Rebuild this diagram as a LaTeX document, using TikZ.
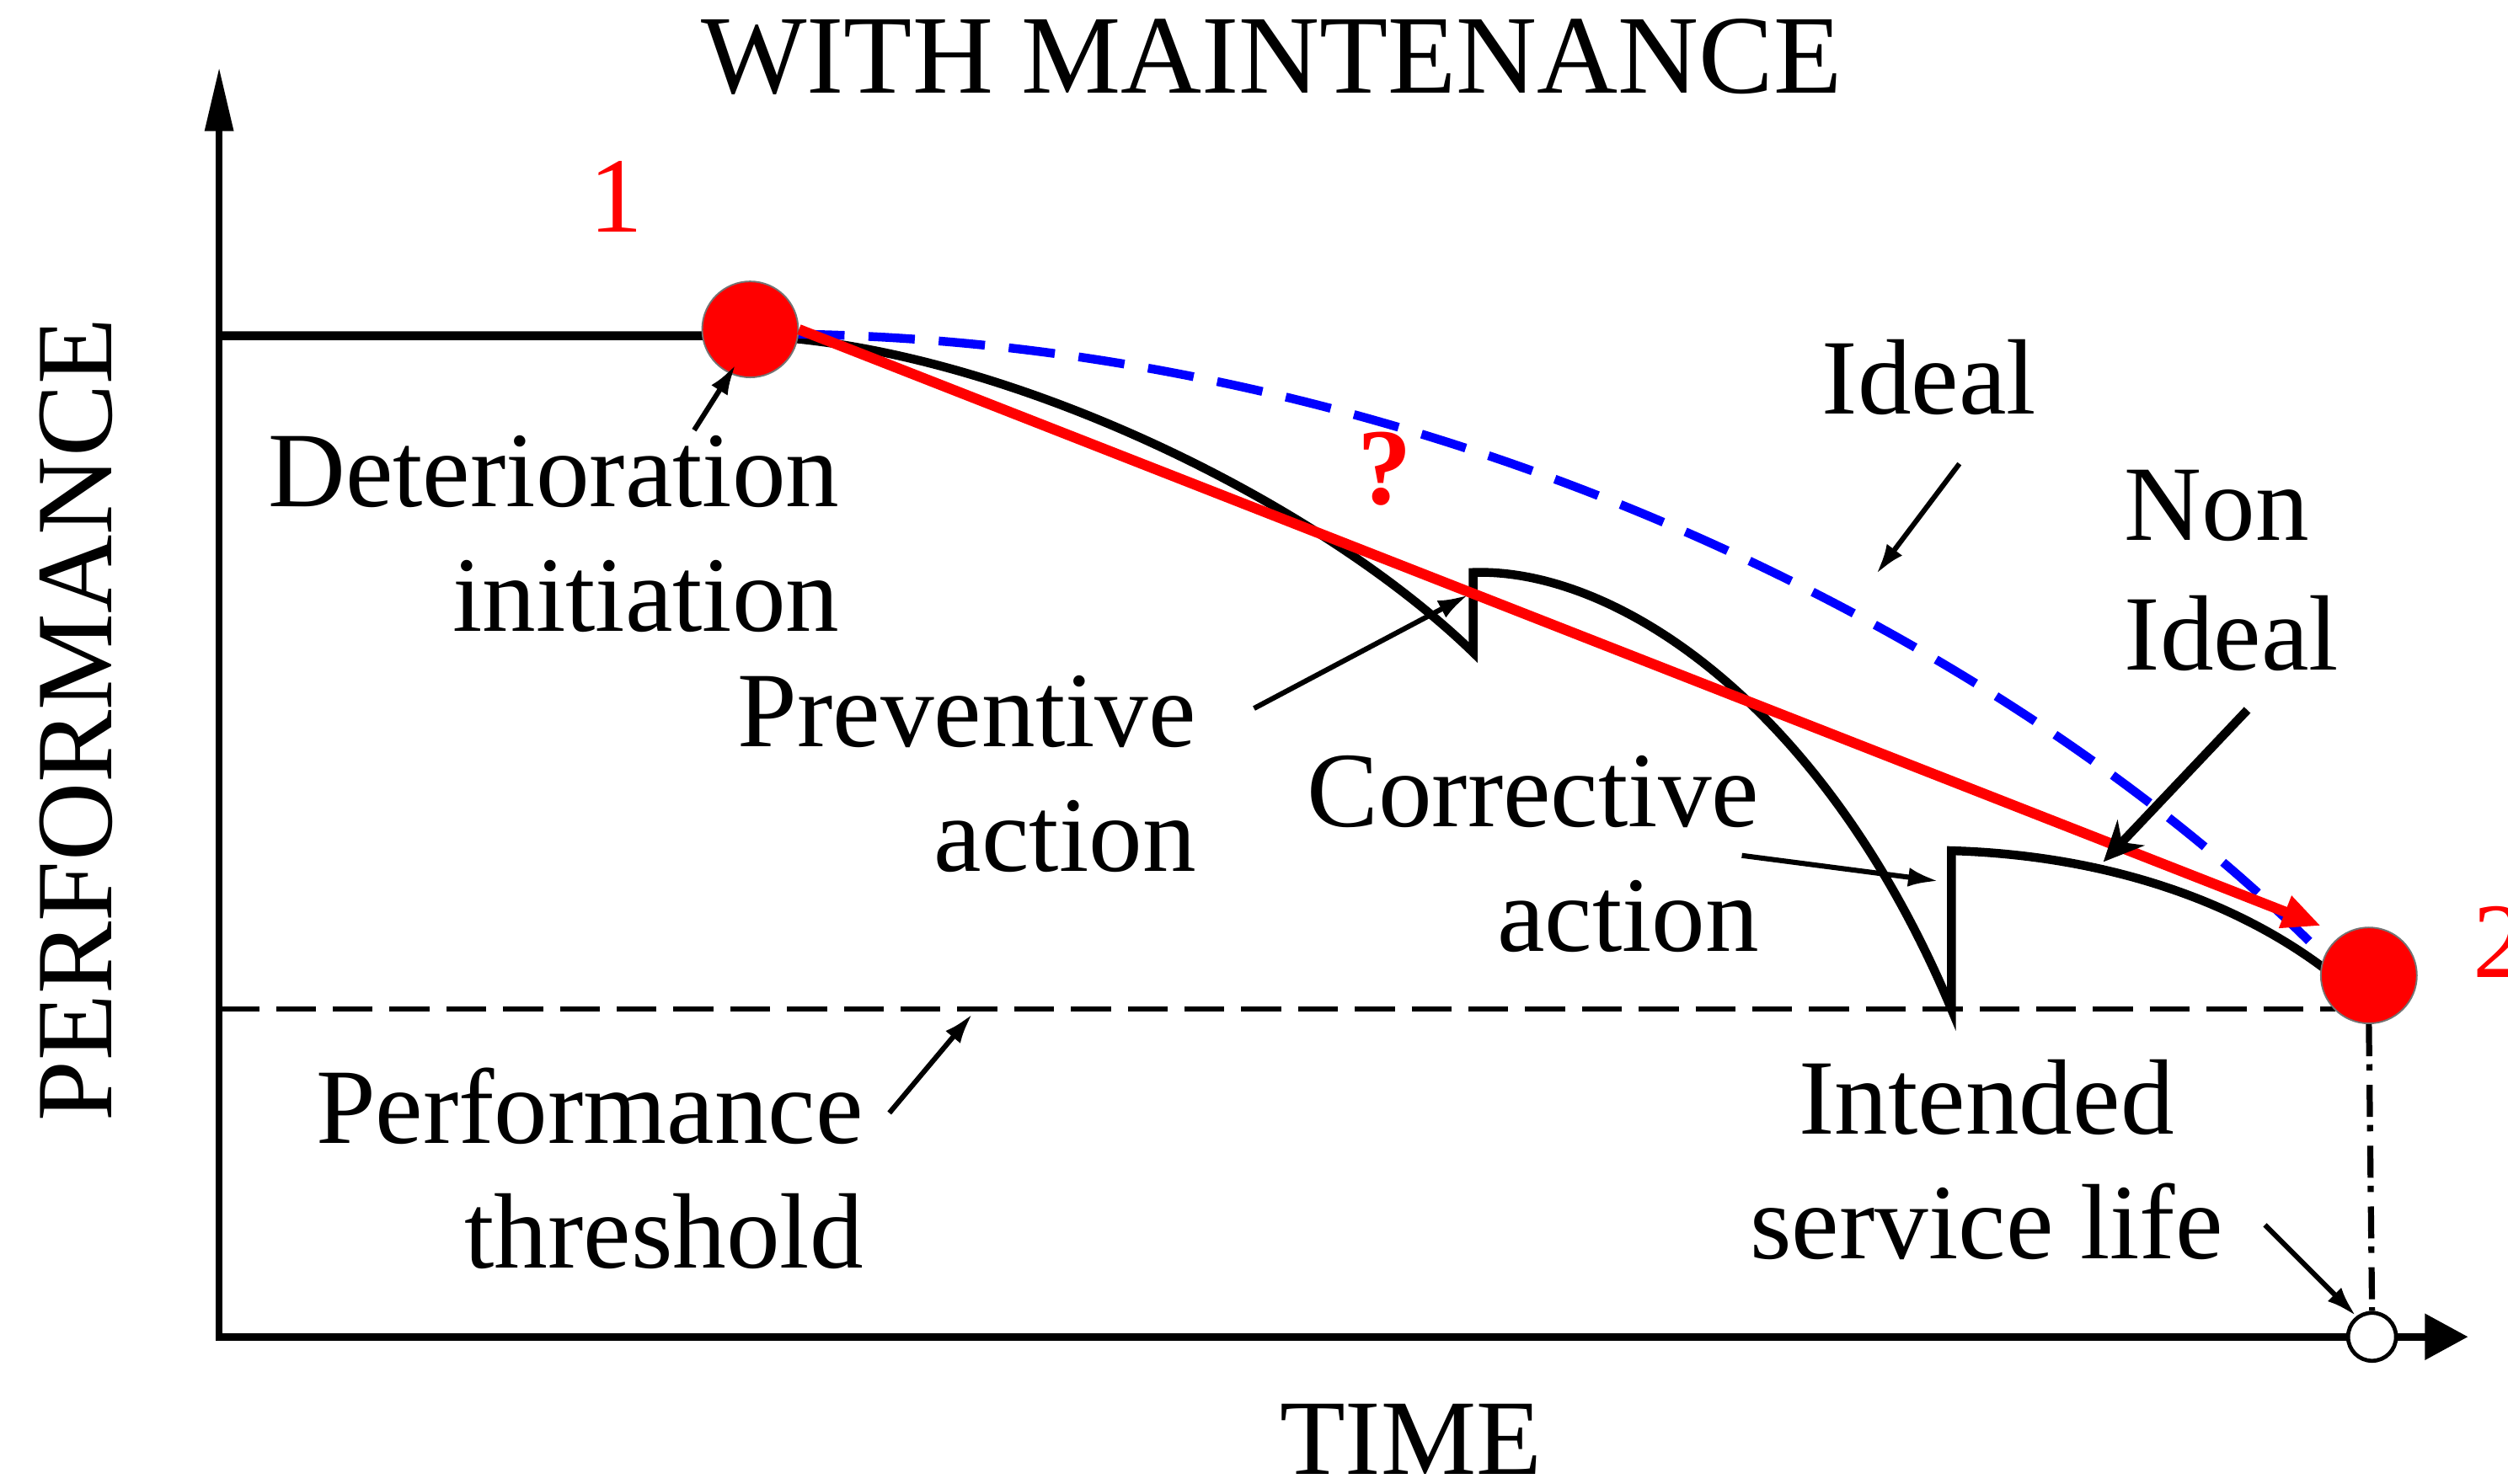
\documentclass[tikz,border=0pt]{standalone}
\usepackage{fontspec}
\setmainfont{Liberation Serif}
\usetikzlibrary{arrows.meta}

\begin{document}
\begin{tikzpicture}[x=1pt, y=-1pt,
  lbl/.style={inner sep=0pt, font=\fontsize{67}{78}\selectfont},
  note/.style={line width=3.2pt, -{Latex[length=19pt, width=12pt]}},
  spot/.style={circle, fill=red, draw=black!55, line width=1pt, minimum size=60pt, inner sep=0pt},
  curve/.style={line width=5.5pt}]
\useasboundingbox (0,0) rectangle (1568,928);
\draw[line width=4.5pt, -{Triangle[length=40pt, width=17pt]}] (137,838) -- (137,42);
\draw[line width=4.5pt, -{Triangle[length=27pt, width=28pt]}] (135,836) -- (1543,836);
\draw[line width=3.2pt, dash pattern=on 25pt off 10.5pt] (137,631) -- (1460,631);
\draw[curve] (137,210) -- (470,210) .. controls (620,215) and (820,310) .. (921,408) -- (921,358)
  .. controls (1010,355) and (1140,440) .. (1220,631) -- (1220,532)
  .. controls (1320,535) and (1400,565) .. (1455,607);
\draw[blue, line width=5.5pt, dash pattern=on 29pt off 15pt] (499,209) .. controls (900,215) and (1265,405) .. (1455,600);
\node[spot] (c1) at (469,206) {};
\node[spot] (c2) at (1481,610) {};
\node[circle, draw, fill=white, line width=2.5pt, minimum size=30pt, inner sep=0pt] (life) at (1483,836) {};
\coordinate (tip) at (1451,579);
\draw[red, line width=6.5pt, -{Triangle[length=24pt, width=20pt]}] (c1.east) -- (tip);
\draw[line width=3.8pt, dash pattern=on 20pt off 5pt on 4pt off 9pt] (c2.south) -- (life.north);
\node[lbl, anchor=base, font=\fontsize{70}{80}\selectfont] (title) at (795,58) {WITH MAINTENANCE};
\node[lbl, anchor=base, rotate=90, font=\fontsize{68}{80}\selectfont] (perf) at (70,450) {PERFORMANCE};
\node[lbl, anchor=base] (time) at (882,922) {TIME};
\node[lbl, red, anchor=base] (one) at (385,145) {1};
\node[lbl, red, anchor=base west] (two) at (1546,611) {2};
\node[lbl, red, font=\bfseries\fontsize{68}{78}\selectfont] (q) at (866,293) {?};
\node[lbl, align=right, anchor=base east] (det) at (525,395) {Deterioration\\initiation};
\node[lbl, align=right, anchor=base east] (prev) at (748,545) {Preventive\\action};
\node[lbl, align=right, anchor=base east] (corr) at (1100,595) {Corrective\\action};
\node[lbl, anchor=base west] (ideal) at (1139,259) {Ideal};
\node[lbl, align=left, anchor=base west, font=\fontsize{67}{81}\selectfont] (nonideal) at (1328,419) {Non\\Ideal};
\node[lbl, align=right, anchor=base east] (thr) at (540,793) {Performance\\threshold};
\node[lbl, align=center, anchor=base] (isl) at (1242,787) {Intended\\service life};
\coordinate (detA) at (434,269);
\coordinate (detB) at (460,228);
\coordinate (prevA) at (784,443);
\coordinate (prevB) at (918,372);
\coordinate (idealA) at (1225,290);
\coordinate (idealB) at (1173,359);
\coordinate (nonA) at (1405,444);
\coordinate (nonB) at (1315,539);
\coordinate (corrA) at (1089,535);
\coordinate (corrB) at (1212,551);
\coordinate (thrA) at (556,696);
\coordinate (thrB) at (608,634);
\coordinate (islA) at (1416,766);
\coordinate (islB) at (1473,823);
\draw[note] (detA) -- (detB);
\draw[note] (prevA) -- (prevB);
\draw[note] (idealA) -- (idealB);
\draw[line width=5.5pt, -{Stealth[length=25pt, width=23pt]}] (nonA) -- (nonB);
\draw[note] (corrA) -- (corrB);
\draw[note] (thrA) -- (thrB);
\draw[note] (islA) -- (islB);
\end{tikzpicture}
\end{document}
